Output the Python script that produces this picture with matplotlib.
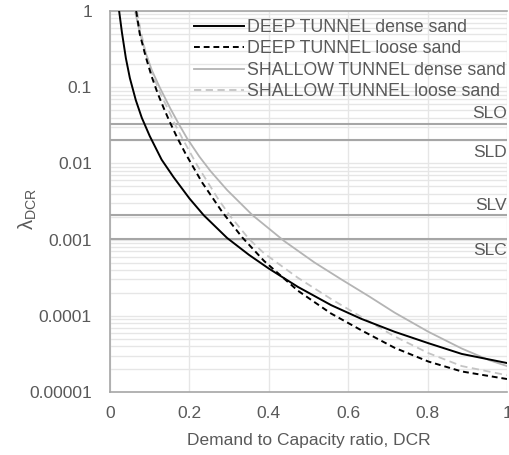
import matplotlib
matplotlib.use("Agg")
import matplotlib.pyplot as plt
from matplotlib.ticker import FixedLocator, LogLocator, NullFormatter

plt.rcParams['font.family'] = ['Liberation Sans', 'DejaVu Sans']
plt.rcParams['mathtext.default'] = 'regular'

# ---- data ----
deep_dense_x = [0.023, 0.030, 0.040, 0.050, 0.065, 0.080, 0.100, 0.130, 0.160, 0.200, 0.236,
                0.295, 0.350, 0.400, 0.473, 0.557, 0.633, 0.717, 0.802, 0.886, 1.0]
deep_dense_y = [1.0, 0.525, 0.240, 0.132, 0.0676, 0.0398, 0.0229, 0.0112, 0.00661, 0.00347, 0.00209,
                0.00105, 0.000631, 0.000417, 0.000240, 0.000138, 9.12e-5, 6.17e-5, 4.37e-5, 3.16e-5, 2.40e-5]

deep_loose_x = [0.066, 0.075, 0.090, 0.105, 0.120, 0.135, 0.150, 0.169, 0.190, 0.232, 0.283,
                0.333, 0.388, 0.473, 0.557, 0.633, 0.717, 0.802, 0.886, 1.0]
deep_loose_y = [1.0, 0.501, 0.251, 0.138, 0.0832, 0.0537, 0.0355, 0.0219, 0.0135, 0.00562, 0.00229,
                0.00107, 0.000525, 0.000214, 0.000107, 6.46e-5, 3.80e-5, 2.51e-5, 1.86e-5, 1.48e-5]

shallow_dense_x = [0.063, 0.075, 0.090, 0.1055, 0.125, 0.152, 0.173, 0.194, 0.225, 0.253, 0.295,
                   0.359, 0.439, 0.515, 0.582, 0.654, 0.717, 0.802, 0.886, 0.954, 1.0]
shallow_dense_y = [1.0, 0.525, 0.282, 0.166, 0.100, 0.0525, 0.0331, 0.0214, 0.0123, 0.00794, 0.00447,
                   0.00209, 0.000955, 0.000501, 0.000302, 0.000178, 0.000110, 6.17e-5, 3.72e-5, 2.63e-5, 2.19e-5]

shallow_loose_x = [0.068, 0.078, 0.090, 0.105, 0.125, 0.148, 0.165, 0.181, 0.219, 0.274, 0.304,
                   0.350, 0.388, 0.473, 0.557, 0.654, 0.717, 0.802, 0.886, 1.0]
shallow_loose_y = [1.0, 0.525, 0.282, 0.158, 0.0871, 0.0490, 0.0316, 0.0219, 0.00955, 0.00331, 0.00200,
                   0.00102, 0.000661, 0.000316, 0.000166, 8.32e-5, 5.37e-5, 3.24e-5, 2.19e-5, 1.66e-5]

series_labels = ["DEEP TUNNEL dense sand", "DEEP TUNNEL loose sand",
                 "SHALLOW TUNNEL dense sand", "SHALLOW TUNNEL loose sand"]

limit_states = ["SLO", "SLD", "SLV", "SLC"]
limit_values = [1 / 30, 1 / 50, 1 / 475, 1 / 975]
limit_text_above = [True, False, True, False]

x_ticks = [0, 0.2, 0.4, 0.6, 0.8, 1.0]
x_tick_labels = ["0", "0.2", "0.4", "0.6", "0.8", "1"]
y_ticks = [1, 0.1, 0.01, 0.001, 0.0001, 0.00001]
y_tick_labels = ["1", "0.1", "0.01", "0.001", "0.0001", "0.00001"]

# ---- figure ----
TXT = '#595959'
fig = plt.figure(figsize=(5.09, 4.55), dpi=100)
ax = fig.add_axes([110 / 509, 63 / 455, 397 / 509, 381 / 455])
ax.set_yscale('log')
ax.set_xlim(0, 1)
ax.set_ylim(1e-5, 1)

ax.xaxis.set_major_locator(FixedLocator(x_ticks))
ax.set_xticklabels(x_tick_labels)
ax.yaxis.set_major_locator(FixedLocator(y_ticks))
ax.set_yticklabels(y_tick_labels)
ax.yaxis.set_minor_locator(LogLocator(base=10, subs=range(2, 10), numticks=20))
ax.yaxis.set_minor_formatter(NullFormatter())

ax.grid(True, which='major', axis='x', color='#e6e6e6', lw=1.0)
ax.grid(True, which='major', axis='y', color='#e6e6e6', lw=1.0)
ax.grid(True, which='minor', axis='y', color='#e6e6e6', lw=1.0)
ax.set_axisbelow(True)

ax.tick_params(which='both', length=0, labelsize=12.5, colors=TXT)
ax.tick_params(axis='x', pad=10)
ax.tick_params(axis='y', pad=13)
for s in ['left', 'bottom', 'top']:
    ax.spines[s].set_color('#a6a6a6')
    ax.spines[s].set_linewidth(1.2)
ax.spines['right'].set_visible(False)

for name, val, above in zip(limit_states, limit_values, limit_text_above):
    ax.axhline(val, color='#a6a6a6', lw=1.5, zorder=2)
    ax.annotate(name, xy=(1.0, val), xycoords=('axes fraction', 'data'),
                xytext=(0, 1.5 if above else -3), textcoords='offset points',
                ha='right', va='bottom' if above else 'top', fontsize=12.5, color=TXT)

ax.plot(deep_dense_x, deep_dense_y, color='black', lw=1.4, label=series_labels[0], zorder=5)
ax.plot(deep_loose_x, deep_loose_y, color='black', lw=1.4, ls=(0, (3, 2)), label=series_labels[1], zorder=5)
ax.plot(shallow_dense_x, shallow_dense_y, color='#b4b4b4', lw=1.3, label=series_labels[2], zorder=4)
ax.plot(shallow_loose_x, shallow_loose_y, color='#c4c4c4', lw=1.3, ls=(0, (4, 2.5)), label=series_labels[3], zorder=4)

leg = ax.legend(loc='upper left', bbox_to_anchor=(0.212, 1 - 8 / 381), frameon=False, fontsize=12.8,
                handlelength=2.81, handletextpad=0.17, labelspacing=0.25, borderaxespad=0.0,
                borderpad=0.0)
for t in leg.get_texts():
    t.set_color(TXT)

ax.set_xlabel('Demand to Capacity ratio, DCR', fontsize=12.5, color=TXT, labelpad=9)
ax.set_ylabel(r'$\lambda_{DCR}$', fontsize=14.5, color=TXT)
ax.yaxis.set_label_coords(-0.18, 0.48)

fig.savefig('out.png', dpi=100)
